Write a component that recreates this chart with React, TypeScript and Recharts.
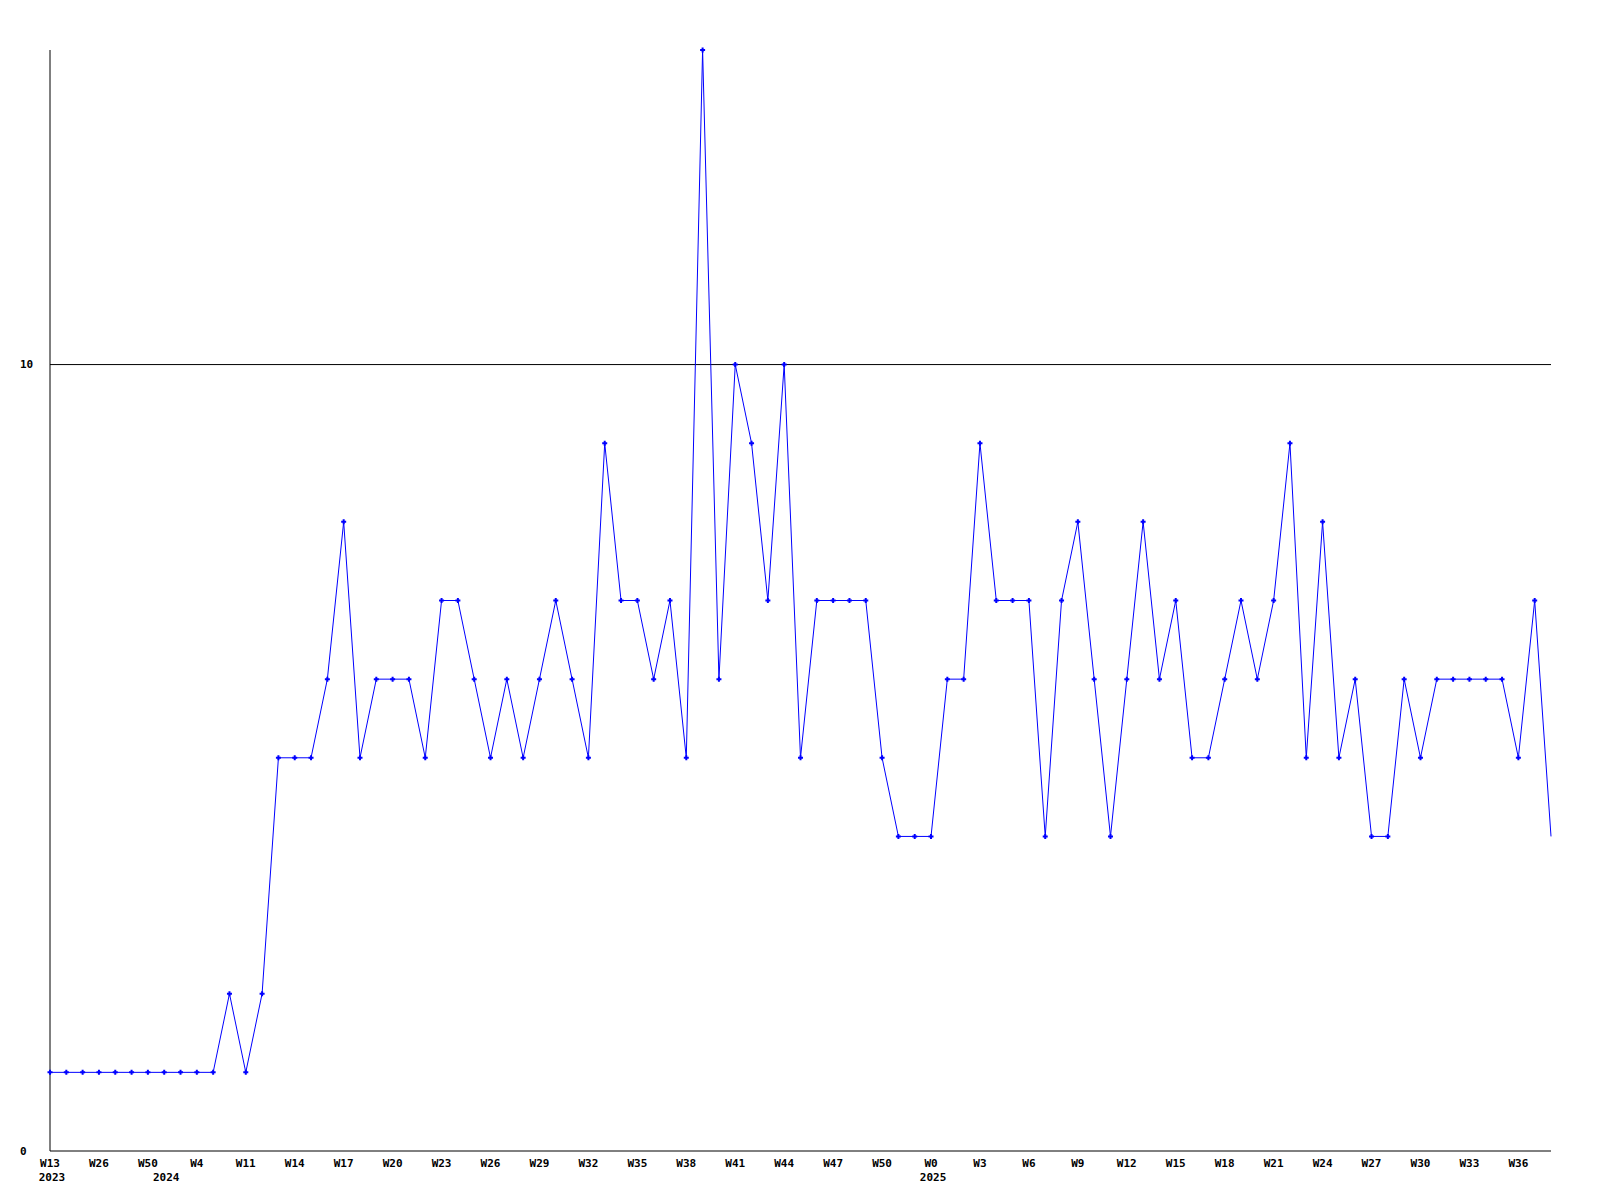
import { Line, LineChart, ReferenceLine, XAxis, YAxis } from 'recharts';

// weekly counts, one point per week
const counts = [
  1, 1, 1, 1, 1, 1, 1, 1, 1, 1, 1, 2, 1, 2, 5, 5, 5, 6, 8, 5, 6, 6, 6, 5, 7, 7, 6, 5, 6, 5, 6, 7,
  6, 5, 9, 7, 7, 6, 7, 5, 14, 6, 10, 9, 7, 10, 5, 7, 7, 7, 7, 5, 4, 4, 4, 6, 6, 9, 7, 7, 7, 4,
  7, 8, 6, 4, 6, 8, 6, 7, 5, 5, 6, 7, 6, 7, 9, 5, 8, 5, 6, 4, 4, 6, 5, 6, 6, 6, 6, 6, 5, 7, 4,
];

// every third week gets a label
const weekLabels = [
  'W13', 'W26', 'W50', 'W4', 'W11', 'W14', 'W17', 'W20', 'W23', 'W26', 'W29', 'W32', 'W35',
  'W38', 'W41', 'W44', 'W47', 'W50', 'W0', 'W3', 'W6', 'W9', 'W12', 'W15', 'W18', 'W21',
  'W24', 'W27', 'W30', 'W33', 'W36',
];
const labelStep = 3;

const yearMarks = [
  { index: 0, year: '2023' },
  { index: 7, year: '2024' },
  { index: 54, year: '2025' },
];

const yTicks = [0, 10];

const data = counts.map((count, i) => ({ i, count }));
const xTicks = Array.from(
  new Set([...weekLabels.map((_, k) => k * labelStep), ...yearMarks.map((m) => m.index)]),
).sort((a, b) => a - b);

const FONT = '"DejaVu Sans Mono", monospace';
const BLUE = '#0000ff';

function WeekTick(props: any) {
  const { x, y, payload } = props;
  const idx = payload.value as number;
  const week = idx % labelStep === 0 ? weekLabels[idx / labelStep] : undefined;
  const year = yearMarks.find((m) => m.index === idx)?.year;
  return (
    <g>
      {week && (
        <text x={x} y={y + 12} textAnchor="middle" dominantBaseline="central"
          fontFamily={FONT} fontSize={11} fontWeight="bold" fill="#000">
          {week}
        </text>
      )}
      {year && (
        <text x={x + 2} y={y + 26.5} textAnchor="middle" dominantBaseline="central"
          fontFamily={FONT} fontSize={11} fontWeight="bold" fill="#000">
          {year}
        </text>
      )}
    </g>
  );
}

function ValueTick(props: any) {
  const { y, payload } = props;
  return (
    <text x={20} y={y} textAnchor="start" dominantBaseline="central"
      fontFamily={FONT} fontSize={11} fontWeight="bold" fill="#000">
      {payload.value}
    </text>
  );
}

function PlusDot(props: any) {
  const { cx, cy, index } = props;
  if (index === counts.length - 1) return <g key={`d${index}`} />;
  return (
    <path
      key={`d${index}`}
      d={`M${cx - 2.5},${cy}h5M${cx},${cy - 2.5}v5`}
      stroke={BLUE}
      strokeWidth={2}
      fill="none"
    />
  );
}

export default function App() {
  return (
    <div style={{ position: 'absolute', left: 0, top: 0, width: 1600, height: 1200, background: '#fff' }}>
      <LineChart width={1600} height={1200} data={data} margin={{ top: 50, right: 49, bottom: 0, left: 0 }}>
        <XAxis
          dataKey="i"
          type="number"
          domain={[0, counts.length - 1]}
          ticks={xTicks}
          interval={0}
          height={49}
          tickLine={false}
          tickSize={0}
          tickMargin={0}
          axisLine={{ stroke: '#000' }}
          tick={<WeekTick />}
        />
        <YAxis
          type="number"
          domain={[0, 14]}
          ticks={yTicks}
          width={50}
          tickLine={false}
          axisLine={{ stroke: '#000' }}
          tick={<ValueTick />}
        />
        <ReferenceLine y={10} stroke="#000" />
        <Line
          type="linear"
          dataKey="count"
          stroke={BLUE}
          strokeWidth={1}
          dot={<PlusDot />}
          activeDot={false}
          isAnimationActive={false}
        />
      </LineChart>
    </div>
  );
}
